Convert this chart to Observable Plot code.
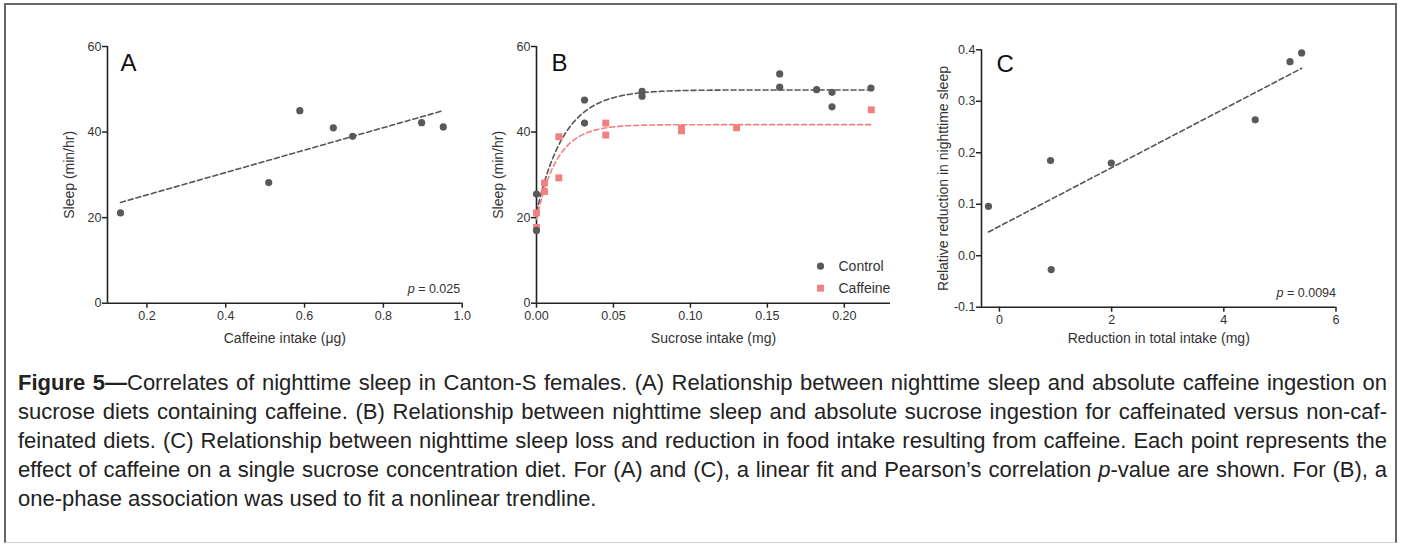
<!DOCTYPE html>
<html>
<head>
<meta charset="utf-8">
<script src="https://cdn.jsdelivr.net/npm/d3@7"></script>
<script src="https://cdn.jsdelivr.net/npm/@observablehq/plot@0.6"></script>
<style>
  body { margin: 0; background: #fff; width: 1401px; height: 544px; position: relative; overflow: hidden;
         font-family: "Liberation Sans", Arial, sans-serif; }
  #box { position: absolute; left: 4px; top: 3px; width: 1393px; height: 540px; box-sizing: border-box;
         border: 2px solid #666; border-bottom: 1.5px solid #d0d0d0; }
  .panel { position: absolute; left: 0; top: 0; }
  #caption { position: absolute; left: 18px; top: 368px; width: 1369px; font-size: 22px; line-height: 29px; color: #222; }
  #caption .l { display: block; text-align: justify; text-align-last: justify; }
  #caption .last { text-align-last: left; }
</style>
</head>
<body>
<div id="box"></div>
<div id="charts"></div>
<div id="caption">
  <span class="l"><b>Figure 5—</b>Correlates of nighttime sleep in Canton-S females. (A) Relationship between nighttime sleep and absolute caffeine ingestion on</span>
  <span class="l">sucrose diets containing caffeine. (B) Relationship between nighttime sleep and absolute sucrose ingestion for caffeinated versus non-caf-</span>
  <span class="l">feinated diets. (C) Relationship between nighttime sleep loss and reduction in food intake resulting from caffeine. Each point represents the</span>
  <span class="l">effect of caffeine on a single sucrose concentration diet. For (A) and (C), a linear fit and Pearson’s correlation <i>p</i>-value are shown. For (B), a</span>
  <span class="l last">one-phase association was used to fit a nonlinear trendline.</span>
</div>
<script>
// ---------- DATA ----------
// Panel A: caffeine intake (µg) vs sleep (min/hr)
const aCaffeineIntake = [0.133, 0.509, 0.588, 0.673, 0.722, 0.897, 0.952];
const aSleep = [21.1, 28.2, 45.0, 41.0, 39.0, 42.2, 41.2];
const aXDomain = [0.1, 1.0];
const aYDomain = [0, 60];
const aXTicks = [0.2, 0.4, 0.6, 0.8, 1.0];
const aYTicks = [0, 20, 40, 60];
const aPValue = "0.025";

// Panel B: sucrose intake (mg) vs sleep (min/hr)
const bControlSucrose = [0, 0, 0.0312, 0.0312, 0.0686, 0.0686, 0.158, 0.158, 0.182, 0.192, 0.192, 0.2173];
const bControlSleep   = [25.5, 17.0, 47.5, 42.1, 49.5, 48.4, 53.6, 50.5, 49.9, 49.3, 45.9, 50.3];
const bCaffeineSucrose = [0, 0, 0.0052, 0.0052, 0.0145, 0.0145, 0.045, 0.045, 0.0942, 0.0942, 0.130, 0.2175];
const bCaffeineSleep   = [21.1, 17.7, 28.1, 26.1, 38.9, 29.3, 42.1, 39.3, 40.9, 40.3, 41.0, 45.2];
const bXDomain = [0, 0.23];
const bYDomain = [0, 60];
const bXTicks = [0, 0.05, 0.10, 0.15, 0.20];
const bYTicks = [0, 20, 40, 60];
const bSeries = ["Control", "Caffeine"];

// Panel C: reduction in total intake (mg) vs relative reduction in nighttime sleep
const cIntakeReduction = [-0.196, 0.911, 0.923, 1.994, 4.56, 5.18, 5.387];
const cSleepReduction  = [0.096, 0.185, -0.027, 0.180, 0.264, 0.377, 0.394];
const cXDomain = [-0.32, 6];
const cYDomain = [-0.1, 0.4];
const cXTicks = [0, 2, 4, 6];
const cYTicks = [-0.1, 0, 0.1, 0.2, 0.3, 0.4];
const cPValue = "0.0094";

const titles = {
  aX: "Caffeine intake (\u03bcg)", aY: "Sleep (min/hr)",
  bX: "Sucrose intake (mg)", bY: "Sleep (min/hr)",
  cX: "Reduction in total intake (mg)", cY: "Relative reduction in nighttime sleep"
};

// ---------- STYLE ----------
const W = 1401, H = 360;
const GRAY = "#595959", PINK = "#f28080", AXIS = "#222", TXT = "#333";
const FONT = "'Liberation Sans', Arial, sans-serif";

// one-phase association least-squares fit (grid over k, linear in Y0 and span)
function fitOnePhase(xs, ys) {
  let best = null;
  for (let k = 1; k <= 400; k += 0.25) {
    const u = xs.map(x => 1 - Math.exp(-k * x));
    const mu = d3.mean(u), my = d3.mean(ys);
    let sxy = 0, sxx = 0;
    for (let i = 0; i < xs.length; i++) { sxy += (u[i] - mu) * (ys[i] - my); sxx += (u[i] - mu) ** 2; }
    const b = sxy / sxx, a = my - b * mu;
    const sse = d3.sum(xs, (x, i) => (ys[i] - a - b * u[i]) ** 2);
    if (!best || sse < best.sse) best = {k, y0: a, span: b, sse};
  }
  return best;
}
function fitCurve(xs, ys) {
  const f = fitOnePhase(xs, ys);
  const xmax = d3.max(xs);
  return d3.range(0, 201).map(i => {
    const x = xmax * i / 200;
    return {x, y: f.y0 + f.span * (1 - Math.exp(-f.k * x))};
  });
}

function axes(xTicks, yTicks, xFmt, yFmt, xDomain, yDomain) {
  const common = {tickSize: 5, stroke: AXIS, strokeWidth: 1.5, fill: TXT, fontSize: 12.5, label: null};
  return [
    Plot.axisX(xTicks, {...common, tickPadding: 3, tickFormat: xFmt}),
    Plot.axisY(yTicks, {...common, tickPadding: 1, tickFormat: yFmt}),
    Plot.ruleY([yDomain[0]], {stroke: AXIS, strokeWidth: 1.6}),
    Plot.ruleX([xDomain[0]], {stroke: AXIS, strokeWidth: 1.6})
  ];
}
function titleMarks(xt, yt, xdy, letter, ldx, ldy) {
  return [
    Plot.text([xt], {text: d => d, frameAnchor: "bottom", dy: xdy, fontSize: 14, fill: TXT, lineAnchor: "middle"}),
    Plot.text([yt], {text: d => d, frameAnchor: "left", rotate: -90, textAnchor: "middle", dx: -38, fontSize: 14, fill: TXT}),
    Plot.text([letter], {text: d => d, frameAnchor: "top-left", textAnchor: "start", lineAnchor: "top", dx: ldx, dy: ldy, fontSize: 24, fill: "#111"})
  ];
}
function makePlot(xDomain, xRange, yDomain, yRange, marks) {
  return Plot.plot({
    width: W, height: H,
    marginLeft: xRange[0], marginRight: W - xRange[1],
    marginTop: yRange[1], marginBottom: H - yRange[0],
    x: {domain: xDomain}, y: {domain: yDomain},
    style: {background: "transparent", overflow: "visible", fontFamily: FONT, fontSize: "12.5px"},
    marks
  });
}
function italicP(svg) {
  d3.select(svg).selectAll("text").filter(function () { return this.textContent.startsWith("p = "); })
    .each(function () {
      const t = this.textContent;
      this.textContent = "";
      d3.select(this).append("tspan").attr("font-style", "italic").text("p");
      d3.select(this).append("tspan").text(t.slice(1));
    });
}

// ---------- PANEL A ----------
const aData = aCaffeineIntake.map((x, i) => ({x, y: aSleep[i]}));
const plotA = makePlot(aXDomain, [107, 461.7], aYDomain, [302.7, 46], [
  ...axes(aXTicks, aYTicks, d => d.toFixed(1), d => String(d), aXDomain, aYDomain),
  Plot.linearRegressionY(aData, {x: "x", y: "y", ci: 0, stroke: "#555", strokeWidth: 1.6, strokeDasharray: "5,3"}),
  Plot.dot(aData, {x: "x", y: "y", r: 3.6, fill: GRAY}),
  ...titleMarks(titles.aX, titles.aY, 35.3, "A", 13, 7),
  Plot.text(["p = " + aPValue], {text: d => d, frameAnchor: "bottom-right", textAnchor: "end", lineAnchor: "bottom", dx: -2, dy: -10, fontSize: 12.5, fill: TXT})
]);

// ---------- PANEL B ----------
const bControl = bControlSucrose.map((x, i) => ({x, y: bControlSleep[i]}));
const bCaffeine = bCaffeineSucrose.map((x, i) => ({x, y: bCaffeineSleep[i]}));
const plotB = makePlot(bXDomain, [536, 890], bYDomain, [302.7, 46], [
  ...axes(bXTicks, bYTicks, d => d.toFixed(2), d => String(d), bXDomain, bYDomain),
  Plot.line(fitCurve(bControlSucrose, bControlSleep), {x: "x", y: "y", stroke: "#555", strokeWidth: 1.6, strokeDasharray: "5,3"}),
  Plot.line(fitCurve(bCaffeineSucrose, bCaffeineSleep), {x: "x", y: "y", stroke: PINK, strokeWidth: 1.6, strokeDasharray: "5,3"}),
  Plot.dot(bCaffeine, {x: "x", y: "y", r: 3.9, symbol: "square", fill: PINK}),
  Plot.dot(bControl, {x: "x", y: "y", r: 3.6, fill: GRAY}),
  ...titleMarks(titles.bX, titles.bY, 35.3, "B", 15, 7),
  Plot.dot([bSeries[0]], {frameAnchor: "bottom-right", dx: -70, dy: -37, r: 3.6, fill: GRAY}),
  Plot.dot([bSeries[1]], {frameAnchor: "bottom-right", dx: -70, dy: -15, r: 3.9, symbol: "square", fill: PINK}),
  Plot.text([bSeries[0]], {text: d => d, frameAnchor: "bottom-right", textAnchor: "start", lineAnchor: "middle", dx: -52, dy: -37, fontSize: 14, fill: TXT}),
  Plot.text([bSeries[1]], {text: d => d, frameAnchor: "bottom-right", textAnchor: "start", lineAnchor: "middle", dx: -52, dy: -15, fontSize: 14, fill: TXT})
]);

// ---------- PANEL C ----------
const cData = cIntakeReduction.map((x, i) => ({x, y: cSleepReduction[i]}));
const plotC = makePlot(cXDomain, [981, 1335.5], cYDomain, [306.7, 49.3], [
  ...axes(cXTicks, cYTicks, d => String(d), d => d.toFixed(1), cXDomain, cYDomain),
  Plot.linearRegressionY(cData, {x: "x", y: "y", ci: 0, stroke: "#555", strokeWidth: 1.6, strokeDasharray: "5,3"}),
  Plot.dot(cData, {x: "x", y: "y", r: 3.6, fill: GRAY}),
  ...titleMarks(titles.cX, titles.cY, 31.3, "C", 15, 5),
  Plot.text(["p = " + cPValue], {text: d => d, frameAnchor: "bottom-right", textAnchor: "end", lineAnchor: "bottom", dx: 0, dy: -10.5, fontSize: 12.5, fill: TXT})
]);

const host = document.getElementById("charts");
for (const p of [plotA, plotB, plotC]) {
  p.classList.add("panel");
  italicP(p);
  host.appendChild(p);
}
</script>
</body>
</html>
